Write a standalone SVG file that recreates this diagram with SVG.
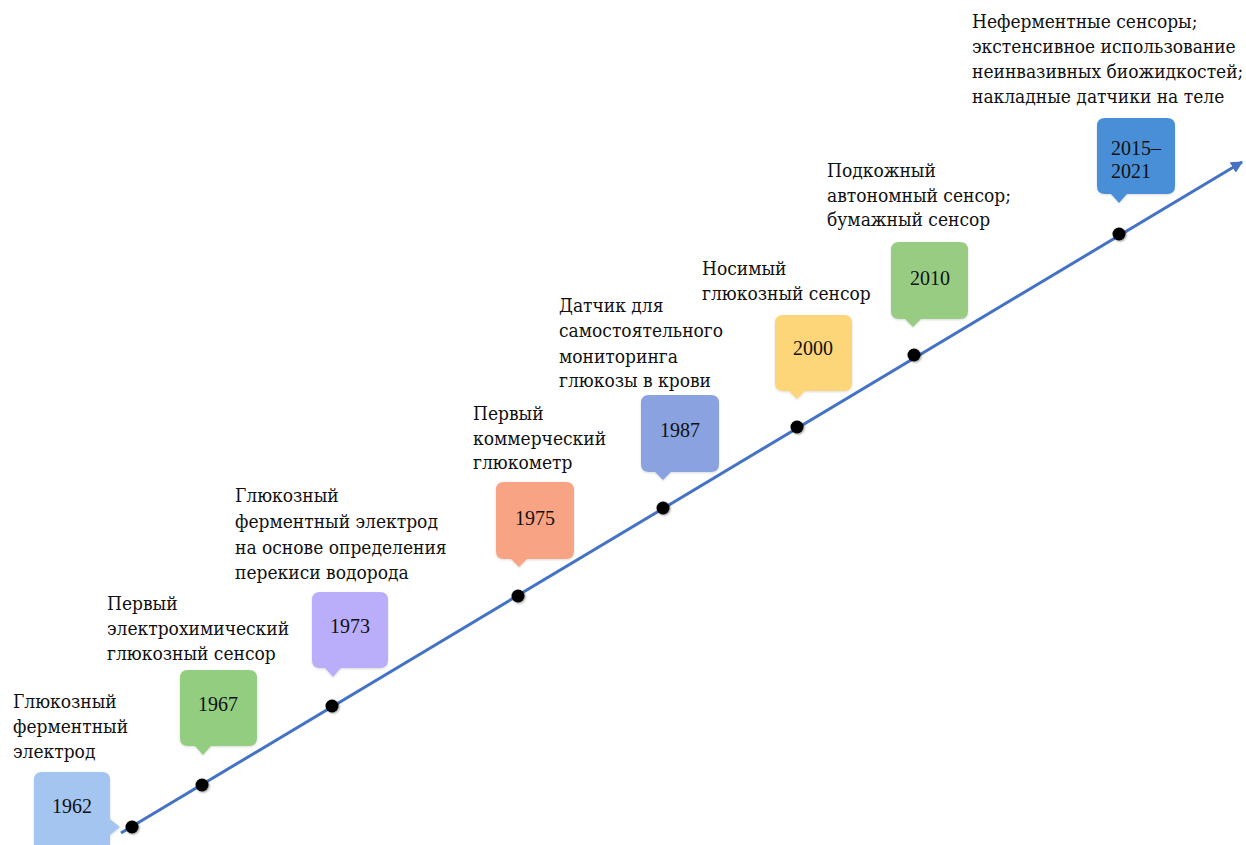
<svg xmlns="http://www.w3.org/2000/svg" width="1246" height="845" viewBox="0 0 1246 845">
<defs>
<style>
.lbl{font-family:"DejaVu Serif Condensed","DejaVu Serif",serif;font-stretch:condensed;font-size:19px;fill:#111}
.yr{font-family:"Liberation Serif","Times New Roman",serif;font-size:20px;fill:#111;text-anchor:middle}
.yr2{font-family:"Liberation Serif","Times New Roman",serif;font-size:20px;fill:#111}
.dot{fill:#000;filter:url(#ds)}
.box{filter:url(#bs)}
</style>
<marker id="ah" viewBox="0 0 10 10" refX="9" refY="5" markerWidth="4" markerHeight="4" orient="auto" markerUnits="strokeWidth">
<path d="M0,0 L10,5 L0,10 Z" fill="#4472c4"/>
</marker>
<filter id="ds" x="-50%" y="-50%" width="200%" height="200%">
<feDropShadow dx="1" dy="1" stdDeviation="1.2" flood-color="#000" flood-opacity="0.4"/>
</filter>
<filter id="bs" x="-10%" y="-10%" width="120%" height="130%">
<feDropShadow dx="0" dy="1" stdDeviation="1" flood-color="#000" flood-opacity="0.15"/>
</filter>
</defs>
<rect width="1246" height="845" fill="#fff"/>

<g id="connectors">
<line x1="121" y1="833" x2="1242" y2="162" stroke="#4472c4" stroke-width="3" marker-end="url(#ah)"/>
</g>

<g id="n1962">
<path class="box" fill="#a3c5ef" d="M42,772 H102 Q110,772 110,780 V819 L120,827 L110,835 V845 H34 V780 Q34,772 42,772 Z"/>
<text class="yr" x="72" y="813">1962</text>
<circle class="dot" cx="132" cy="827" r="6.5"/>
<text class="lbl"><tspan x="13" y="708">Глюкозный</tspan><tspan x="13" y="733">ферментный</tspan><tspan x="13" y="758">электрод</tspan></text>
</g>

<g id="n1967">
<path class="box" fill="#93cd7f" d="M188,670 H249 Q257,670 257,678 V738 Q257,746 249,746 H211 L203,755 L195,746 H188 Q180,746 180,738 V678 Q180,670 188,670 Z"/>
<text class="yr" x="218" y="711">1967</text>
<circle class="dot" cx="202" cy="785" r="6.5"/>
<text class="lbl"><tspan x="107" y="610">Первый</tspan><tspan x="107" y="635">электрохимический</tspan><tspan x="107" y="660">глюкозный сенсор</tspan></text>
</g>

<g id="n1973">
<path class="box" fill="#baadfa" d="M320,592 H380 Q388,592 388,600 V660 Q388,668 380,668 H341 L333,677 L325,668 H320 Q312,668 312,660 V600 Q312,592 320,592 Z"/>
<text class="yr" x="350" y="633">1973</text>
<circle class="dot" cx="332" cy="706" r="6.5"/>
<text class="lbl"><tspan x="235" y="502">Глюкозный</tspan><tspan x="235" y="528">ферментный электрод</tspan><tspan x="235" y="554">на основе определения</tspan><tspan x="235" y="579">перекиси водорода</tspan></text>
</g>

<g id="n1975">
<path class="box" fill="#f9a385" d="M504,482 H566 Q574,482 574,490 V551 Q574,559 566,559 H527 L519,567 L511,559 H504 Q496,559 496,551 V490 Q496,482 504,482 Z"/>
<text class="yr" x="535" y="525">1975</text>
<circle class="dot" cx="518" cy="596" r="6.5"/>
<text class="lbl"><tspan x="473" y="420">Первый</tspan><tspan x="473" y="445">коммерческий</tspan><tspan x="473" y="469">глюкометр</tspan></text>
</g>

<g id="n1987">
<path class="box" fill="#8aa2df" d="M649,395 H711 Q719,395 719,403 V464 Q719,472 711,472 H671 L663,480 L655,472 H649 Q641,472 641,464 V403 Q641,395 649,395 Z"/>
<text class="yr" x="680" y="437">1987</text>
<circle class="dot" cx="663" cy="508" r="6.5"/>
<text class="lbl"><tspan x="559" y="312">Датчик для</tspan><tspan x="559" y="337">самостоятельного</tspan><tspan x="559" y="363">мониторинга</tspan><tspan x="559" y="387">глюкозы в крови</tspan></text>
</g>

<g id="n2000">
<path class="box" fill="#fdd67a" d="M783,315 H844 Q852,315 852,323 V383 Q852,391 844,391 H805 L797,399 L789,391 H783 Q775,391 775,383 V323 Q775,315 783,315 Z"/>
<text class="yr" x="813" y="355">2000</text>
<circle class="dot" cx="797" cy="427" r="6.5"/>
<text class="lbl"><tspan x="702" y="275">Носимый</tspan><tspan x="702" y="300">глюкозный сенсор</tspan></text>
</g>

<g id="n2010">
<path class="box" fill="#97cc82" d="M899,242 H960 Q968,242 968,250 V311 Q968,319 960,319 H921 L913,327 L905,319 H899 Q891,319 891,311 V250 Q891,242 899,242 Z"/>
<text class="yr" x="930" y="285">2010</text>
<circle class="dot" cx="914" cy="355" r="6.5"/>
<text class="lbl"><tspan x="827" y="177">Подкожный</tspan><tspan x="827" y="202">автономный сенсор;</tspan><tspan x="827" y="226">бумажный сенсор</tspan></text>
</g>

<g id="n2015">
<path class="box" fill="#4a8fd8" d="M1105,118 H1167 Q1175,118 1175,126 V186 Q1175,194 1167,194 H1127 L1119,203 L1111,194 H1105 Q1097,194 1097,186 V126 Q1097,118 1105,118 Z"/>
<text class="yr2"><tspan x="1111" y="155">2015–</tspan><tspan x="1111" y="178">2021</tspan></text>
<circle class="dot" cx="1119" cy="234" r="6.5"/>
<text class="lbl"><tspan x="972" y="28">Неферментные сенсоры;</tspan><tspan x="972" y="53">экстенсивное использование</tspan><tspan x="972" y="78">неинвазивных биожидкостей;</tspan><tspan x="972" y="103">накладные датчики на теле</tspan></text>
</g>
</svg>
